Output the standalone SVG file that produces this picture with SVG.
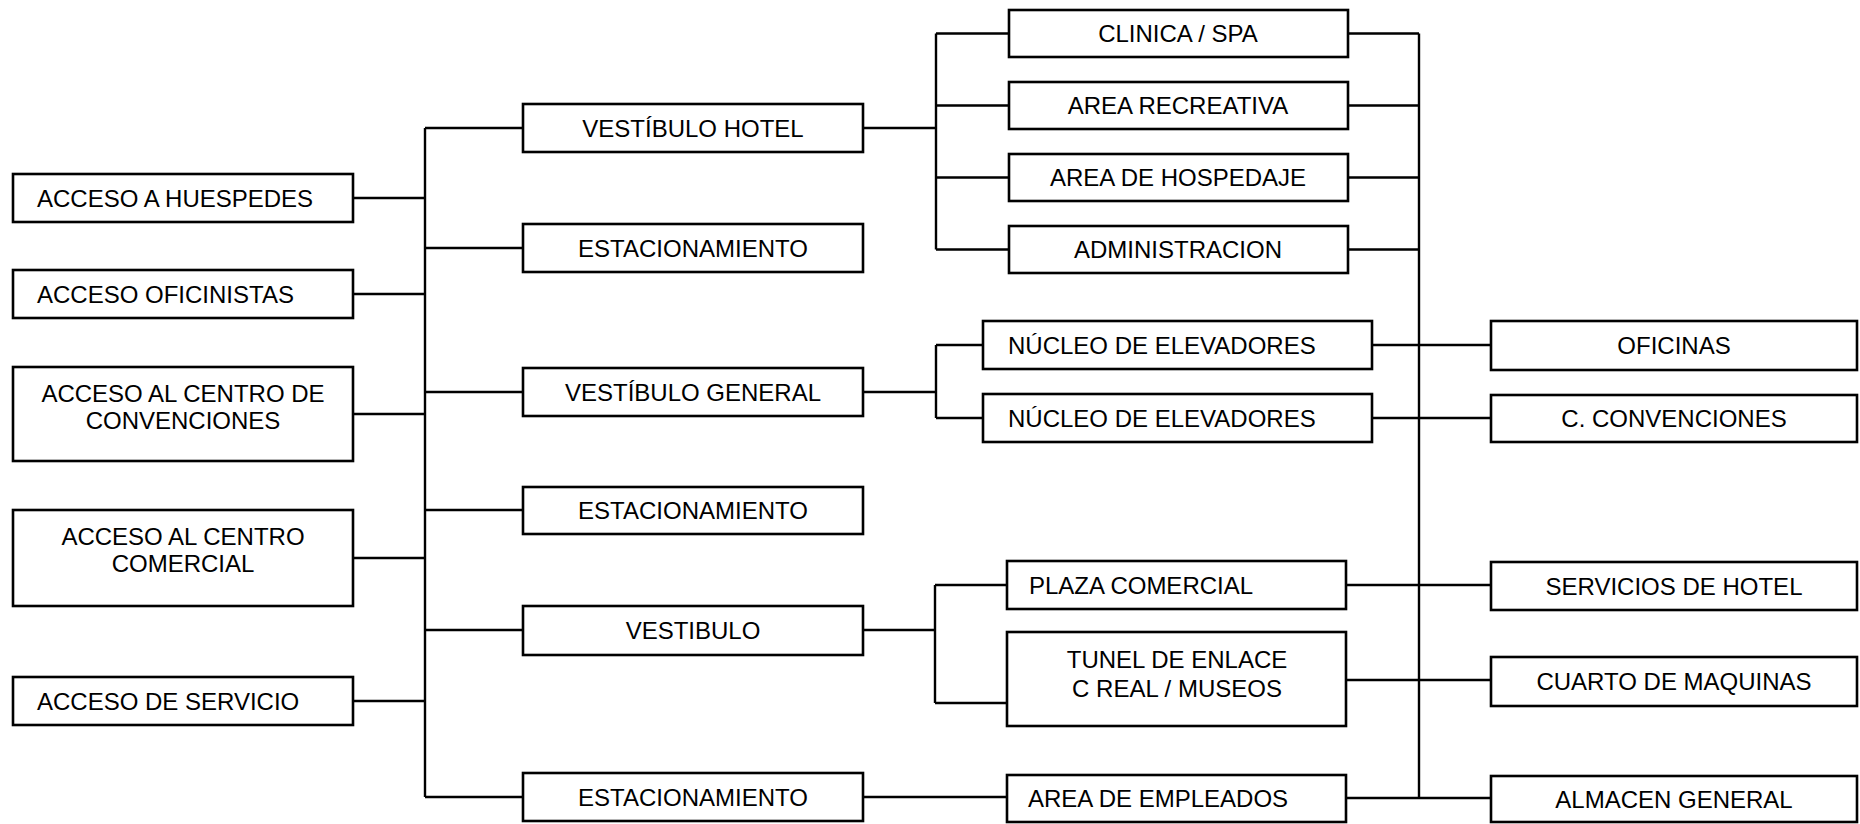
<svg xmlns="http://www.w3.org/2000/svg" width="1860" height="824" viewBox="0 0 1860 824">
<style>
.b{fill:#fff;stroke:#000;stroke-width:2.6}
.t{font-family:"Liberation Sans",Arial,sans-serif;font-size:24px;fill:#000}
.c{text-anchor:middle}
#connectors path{fill:none;stroke:#000;stroke-width:2.4}
</style>
<rect width="1860" height="824" fill="#fff"/>
<g id="connectors">
<path d="M425 128V797"/>
<path d="M353 198H425M353 294H425M353 414H425M353 558H425M353 701H425"/>
<path d="M425 128H523M425 248H523M425 392H523M425 510H523M425 630H523M425 797H523"/>
<path d="M863 128H936M936 33.5V249.5M936 33.5H1009M936 105.5H1009M936 177.5H1009M936 249.5H1009"/>
<path d="M863 392H936M936 345V418M936 345H983M936 418H983"/>
<path d="M863 630H935M935 585V703M935 585H1007M935 703H1007"/>
<path d="M863 797H1007"/>
<path d="M1419 33.5V799"/>
<path d="M1348 33.5H1419M1348 105.5H1419M1348 177.5H1419M1348 249.5H1419"/>
<path d="M1372 345H1491M1372 418H1491M1346 585H1491M1346 680H1491M1346 798H1491"/>
</g>
<g id="acceso-huespedes"><rect class="b" x="13" y="174" width="340" height="48"/><text class="t" x="37" y="207">ACCESO A HUESPEDES</text></g>
<g id="acceso-oficinistas"><rect class="b" x="13" y="270" width="340" height="48"/><text class="t" x="37" y="303">ACCESO OFICINISTAS</text></g>
<g id="acceso-convenciones"><rect class="b" x="13" y="367" width="340" height="94"/><text class="t c" x="183" y="402">ACCESO AL CENTRO DE</text><text class="t c" x="183" y="429">CONVENCIONES</text></g>
<g id="acceso-comercial"><rect class="b" x="13" y="510" width="340" height="96"/><text class="t c" x="183" y="545">ACCESO AL CENTRO</text><text class="t c" x="183" y="572">COMERCIAL</text></g>
<g id="acceso-servicio"><rect class="b" x="13" y="677" width="340" height="48"/><text class="t" x="37" y="710">ACCESO DE SERVICIO</text></g>
<g id="vestibulo-hotel"><rect class="b" x="523" y="104" width="340" height="48"/><text class="t c" x="693" y="137">VESTÍBULO HOTEL</text></g>
<g id="estacionamiento-1"><rect class="b" x="523" y="224" width="340" height="48"/><text class="t c" x="693" y="257">ESTACIONAMIENTO</text></g>
<g id="vestibulo-general"><rect class="b" x="523" y="368" width="340" height="48"/><text class="t c" x="693" y="401">VESTÍBULO GENERAL</text></g>
<g id="estacionamiento-2"><rect class="b" x="523" y="487" width="340" height="47"/><text class="t c" x="693" y="519">ESTACIONAMIENTO</text></g>
<g id="vestibulo"><rect class="b" x="523" y="606" width="340" height="49"/><text class="t c" x="693" y="639">VESTIBULO</text></g>
<g id="estacionamiento-3"><rect class="b" x="523" y="773" width="340" height="48"/><text class="t c" x="693" y="806">ESTACIONAMIENTO</text></g>
<g id="clinica-spa"><rect class="b" x="1009" y="10" width="339" height="47"/><text class="t c" x="1178" y="42">CLINICA / SPA</text></g>
<g id="area-recreativa"><rect class="b" x="1009" y="82" width="339" height="47"/><text class="t c" x="1178" y="114">AREA RECREATIVA</text></g>
<g id="area-hospedaje"><rect class="b" x="1009" y="154" width="339" height="47"/><text class="t c" x="1178" y="186">AREA DE HOSPEDAJE</text></g>
<g id="administracion"><rect class="b" x="1009" y="226" width="339" height="47"/><text class="t c" x="1178" y="258">ADMINISTRACION</text></g>
<g id="nucleo-1"><rect class="b" x="983" y="321" width="389" height="48"/><text class="t" x="1008" y="354">NÚCLEO DE ELEVADORES</text></g>
<g id="nucleo-2"><rect class="b" x="983" y="394" width="389" height="48"/><text class="t" x="1008" y="427">NÚCLEO DE ELEVADORES</text></g>
<g id="plaza-comercial"><rect class="b" x="1007" y="561" width="339" height="48"/><text class="t" x="1029" y="594">PLAZA COMERCIAL</text></g>
<g id="tunel-enlace"><rect class="b" x="1007" y="632" width="339" height="94"/><text class="t c" x="1177" y="668">TUNEL DE ENLACE</text><text class="t c" x="1177" y="697">C REAL / MUSEOS</text></g>
<g id="area-empleados"><rect class="b" x="1007" y="775" width="339" height="47"/><text class="t" x="1028" y="807">AREA DE EMPLEADOS</text></g>
<g id="oficinas"><rect class="b" x="1491" y="321" width="366" height="49"/><text class="t c" x="1674" y="354">OFICINAS</text></g>
<g id="c-convenciones"><rect class="b" x="1491" y="395" width="366" height="47"/><text class="t c" x="1674" y="427">C. CONVENCIONES</text></g>
<g id="servicios-hotel"><rect class="b" x="1491" y="562" width="366" height="48"/><text class="t c" x="1674" y="595">SERVICIOS DE HOTEL</text></g>
<g id="cuarto-maquinas"><rect class="b" x="1491" y="657" width="366" height="49"/><text class="t c" x="1674" y="690">CUARTO DE MAQUINAS</text></g>
<g id="almacen-general"><rect class="b" x="1491" y="776" width="366" height="46"/><text class="t c" x="1674" y="808">ALMACEN GENERAL</text></g>
</svg>
